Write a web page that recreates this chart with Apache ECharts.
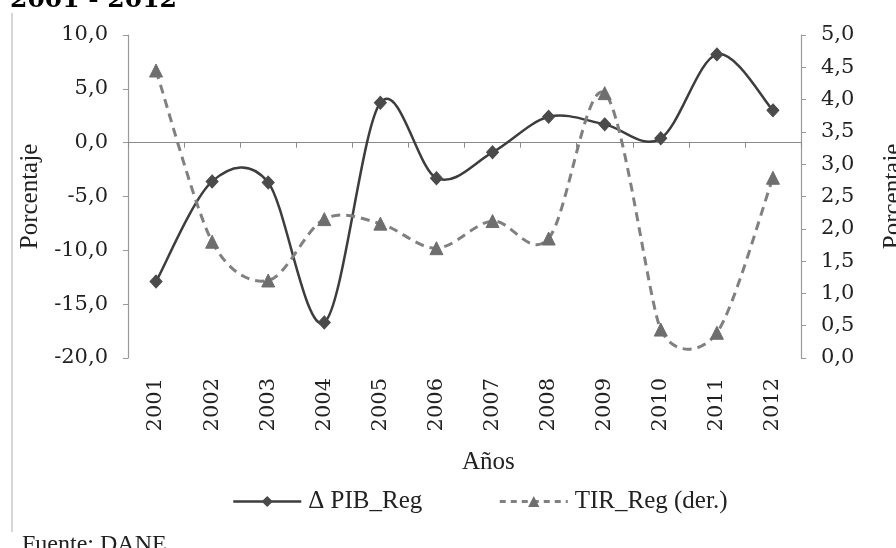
<!DOCTYPE html>
<html>
<head>
<meta charset="utf-8">
<script src="https://cdn.jsdelivr.net/npm/echarts@6/dist/echarts.min.js"></script>
<style>
html,body{margin:0;padding:0;background:#fff;}
#chart{width:896px;height:548px;}
</style>
</head>
<body>
<div id="chart"></div>
<script>
const years = ['2001','2002','2003','2004','2005','2006','2007','2008','2009','2010','2011','2012'];
const pibReg = [-12.9, -3.6, -3.7, -16.7, 3.7, -3.3, -0.9, 2.4, 1.7, 0.4, 8.2, 3.0];
const tirReg = [4.45, 1.8, 1.2, 2.15, 2.08, 1.7, 2.12, 1.85, 4.1, 0.44, 0.39, 2.79];
const leftTicks = ['-20,0','-15,0','-10,0','-5,0','0,0','5,0','10,0'];
const rightTicks = ['0,0','0,5','1,0','1,5','2,0','2,5','3,0','3,5','4,0','4,5','5,0'];
const seriesNames = ['\u0394 PIB_Reg', 'TIR_Reg (der.)'];

// Excel-like smoothed path through the points (computed in pixel space from api.coord)
function smoothPath(pts) {
  const n = pts.length;
  const tan = pts.map((p, i) => {
    const a = pts[Math.max(i - 1, 0)], b = pts[Math.min(i + 1, n - 1)];
    let dx = (b[0] - a[0]) / 6, dy = (b[1] - a[1]) / 6;
    const len = Math.hypot(dx, dy);
    const d0 = i > 0 ? Math.hypot(p[0] - a[0], p[1] - a[1]) : Infinity;
    const d1 = i < n - 1 ? Math.hypot(b[0] - p[0], b[1] - p[1]) : Infinity;
    const cap = Math.min(d0, d1) / 2;
    if (len > cap && len > 0) { dx *= cap / len; dy *= cap / len; }
    return [dx, dy];
  });
  let d = 'M' + pts[0][0] + ' ' + pts[0][1];
  for (let i = 0; i < n - 1; i++) {
    const p = pts[i], q = pts[i + 1];
    d += ' C' + (p[0] + tan[i][0]) + ' ' + (p[1] + tan[i][1]) + ' ' +
         (q[0] - tan[i + 1][0]) + ' ' + (q[1] - tan[i + 1][1]) + ' ' + q[0] + ' ' + q[1];
  }
  return d;
}
function curveSeries(values, yAxisIndex, style) {
  return {
    type: 'custom', xAxisIndex: 0, yAxisIndex: yAxisIndex, z: 2, silent: true,
    data: values.map((v, i) => [i, v]),
    renderItem: function (params, api) {
      if (params.dataIndex !== 0) return null;
      const pts = values.map((v, i) => api.coord([i, v]));
      return {type: 'path', shape: {pathData: smoothPath(pts)}, style: Object.assign({fill: null}, style)};
    }
  };
}

const chart = echarts.init(document.getElementById('chart'));
const tickFont = {fontFamily: 'DejaVu Serif', fontSize: 21, color: '#222'};
const serifBig = 'Liberation Serif';

chart.setOption({
  backgroundColor: '#ffffff',
  animation: false,
  grid: {left: 128, right: 95, top: 35, bottom: 190, outerBoundsMode: 'none', containLabel: false},
  graphic: [
    {type: 'line', shape: {x1: 12, y1: 13, x2: 12, y2: 532}, style: {stroke: '#c8c8c8', lineWidth: 1.5}},
    {type: 'text', left: 10, top: -12, style: {text: '2001 - 2012', font: 'bold 25px "DejaVu Serif"', fill: '#000'}},
    {type: 'text', left: 462, top: 450, style: {text: 'A\u00f1os', font: '25px "Liberation Serif"', fill: '#222'}},
    {type: 'text', left: 22, top: 533, style: {text: 'Fuente: DANE.', font: '24px "Liberation Serif"', fill: '#222'}}
  ],
  legend: {
    left: 227, top: 484,
    itemWidth: 68, itemHeight: 14, itemGap: 76,
    textStyle: {fontFamily: serifBig, fontSize: 25, color: '#222', padding: [0, 0, 0, 2]},
    data: [
      {name: seriesNames[0], lineStyle: {color: '#3d3d3d', width: 2.5, type: 'solid', opacity: 1}},
      {name: seriesNames[1], lineStyle: {color: '#808080', width: 3, type: [6, 5], opacity: 1}}
    ]
  },
  xAxis: [
    {
      type: 'category', data: years, boundaryGap: true, position: 'bottom',
      axisLine: {show: false}, axisTick: {show: false},
      axisLabel: {rotate: 90, margin: 20, ...tickFont}
    },
    {
      type: 'category', data: years, boundaryGap: true, position: 'bottom',
      axisLine: {show: true, onZero: true, onZeroAxisIndex: 0, lineStyle: {color: '#8a8a8a', width: 1.2}},
      axisTick: {show: true, inside: false, length: 5, lineStyle: {color: '#8a8a8a'}},
      axisLabel: {show: false}
    }
  ],
  yAxis: [
    {
      type: 'value', min: -20, max: 10, interval: 5, position: 'left',
      name: 'Porcentaje', nameLocation: 'middle', nameRotate: 90, nameGap: 83,
      nameTextStyle: {fontFamily: serifBig, fontSize: 25, color: '#222'},
      splitLine: {show: false},
      axisLine: {show: true, lineStyle: {color: '#9a9a9a', width: 1.2}},
      axisTick: {show: true, length: 5, lineStyle: {color: '#9a9a9a'}},
      axisLabel: {margin: 20, ...tickFont,
        formatter: v => leftTicks[Math.round((v + 20) / 5)]}
    },
    {
      type: 'value', min: 0, max: 5, interval: 0.5, position: 'right',
      name: 'Porcentaje', nameLocation: 'middle', nameRotate: 90, nameGap: 80,
      nameTextStyle: {fontFamily: serifBig, fontSize: 25, color: '#222'},
      splitLine: {show: false},
      axisLine: {show: true, lineStyle: {color: '#9a9a9a', width: 1.2}},
      axisTick: {show: true, length: 5, lineStyle: {color: '#9a9a9a'}},
      axisLabel: {margin: 20, ...tickFont,
        formatter: v => rightTicks[Math.round(v / 0.5)]}
    }
  ],
  series: [
    curveSeries(pibReg, 0, {stroke: '#3d3d3d', lineWidth: 2.5}),
    curveSeries(tirReg, 1, {stroke: '#808080', lineWidth: 3, lineDash: [9, 6]}),
    {
      name: seriesNames[0], type: 'line', xAxisIndex: 0, yAxisIndex: 0, z: 4,
      data: pibReg,
      symbol: 'diamond', symbolSize: [12, 13], showAllSymbol: true,
      lineStyle: {color: '#3d3d3d', width: 2.5, opacity: 0},
      itemStyle: {color: '#4a4a4a', borderColor: '#4a4a4a'}
    },
    {
      name: seriesNames[1], type: 'line', xAxisIndex: 0, yAxisIndex: 1, z: 4,
      data: tirReg,
      symbol: 'triangle', symbolSize: 13, showAllSymbol: true,
      lineStyle: {color: '#808080', width: 3, type: [6, 5], opacity: 0},
      itemStyle: {color: '#6e6e6e', borderColor: '#6e6e6e'}
    }
  ]
});
</script>
</body>
</html>
